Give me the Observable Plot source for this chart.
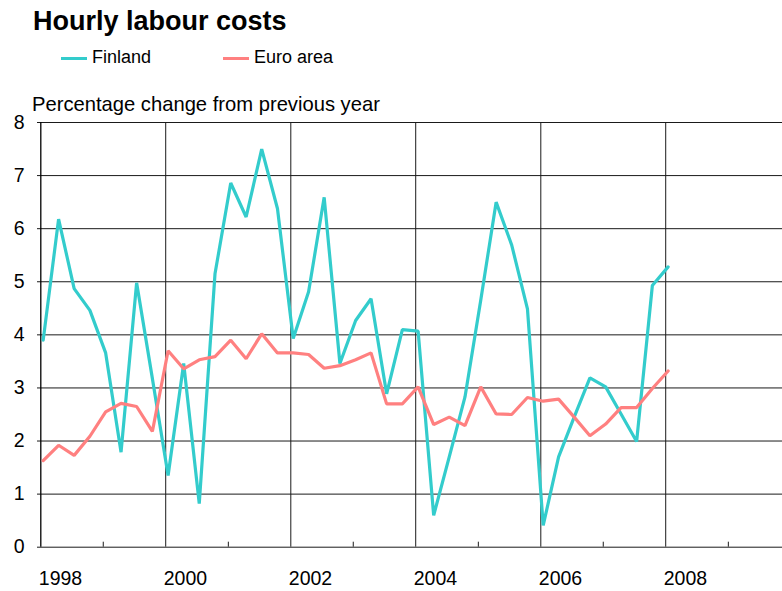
<!DOCTYPE html>
<html>
<head>
<meta charset="utf-8">
<script src="https://cdn.jsdelivr.net/npm/d3@7"></script>
<script src="https://cdn.jsdelivr.net/npm/@observablehq/plot@0.6"></script>
<style>
  html, body { margin: 0; padding: 0; background: #fff; }
  body { width: 782px; height: 591px; overflow: hidden; font-family: "Liberation Sans", Arial, sans-serif; color: #000; }
  #header { position: relative; height: 112px; }
  #title { position: absolute; left: 33px; top: 8px; font-size: 27px; font-weight: bold; line-height: 27px; white-space: nowrap; }
  .leg { position: absolute; top: 48px; font-size: 18px; line-height: 18px; white-space: nowrap; }
  .leg .sw { position: absolute; top: 9px; height: 3px; width: 26px; }
  #ylab { position: absolute; left: 32px; top: 94px; font-size: 20.2px; line-height: 20px; white-space: nowrap; }
  #chart svg { display: block; }
</style>
</head>
<body>
<div id="header">
  <div id="title">Hourly labour costs</div>
  <div class="leg" style="left:61px"><span class="sw" style="left:0;background:#33CCCC"></span><span style="margin-left:31px">Finland</span></div>
  <div class="leg" style="left:223px"><span class="sw" style="left:0;background:#FF8080"></span><span style="margin-left:31px">Euro area</span></div>
  <div id="ylab">Percentage change from previous year</div>
</div>
<div id="chart"></div>
<script>
// Quarterly data, 1998 Q1 to 2008 Q1
const startYear = 1998;
const finland = [3.90, 6.18, 4.87, 4.46, 3.66, 1.79, 4.98, 3.18, 1.35, 3.46, 0.82, 5.15,
                 6.86, 6.22, 7.50, 6.38, 3.93, 4.81, 6.59, 3.46, 4.27, 4.68, 2.89, 4.10,
                 4.07, 0.60, 1.70, 2.83, 4.65, 6.50, 5.69, 4.49, 0.41, 1.70, 2.45, 3.19,
                 3.02, 2.51, 1.99, 4.93, 5.28];
const euroArea = [1.63, 1.92, 1.73, 2.09, 2.55, 2.71, 2.65, 2.18, 3.70, 3.36, 3.53, 3.59,
                  3.90, 3.55, 4.02, 3.66, 3.66, 3.63, 3.37, 3.42, 3.53, 3.66, 2.70, 2.70,
                  3.02, 2.31, 2.45, 2.29, 3.02, 2.51, 2.50, 2.82, 2.75, 2.79, 2.45, 2.10,
                  2.32, 2.63, 2.63, 2.99, 3.32];
const seriesNames = ["Finland", "Euro area"];
const seriesColors = ["#33CCCC", "#FF8080"];
const yTicks = [0, 1, 2, 3, 4, 5, 6, 7, 8];
const labelYears = [1998, 2000, 2002, 2004, 2006, 2008];
const gridYears = [2000, 2002, 2004, 2006, 2008, 2010];
const minorYears = [1999, 2001, 2003, 2005, 2007, 2009];

// quarter date: middle of the first month of each quarter
const qDate = i => new Date(Date.UTC(startYear + Math.floor(i / 4), (i % 4) * 3, 15));
const yDate = y => new Date(Date.UTC(y, 0, 1));

const rows = [];
[finland, euroArea].forEach((vals, s) => vals.forEach((v, i) => rows.push({date: qDate(i), value: v, series: seriesNames[s]})));

const W = 782, H = 479;
const chart = Plot.plot({
  width: W,
  height: H,
  marginLeft: 40,
  marginRight: 0,
  marginTop: 10,
  marginBottom: 44.3,
  style: {background: "transparent", overflow: "visible", fontFamily: "'Liberation Sans', Arial, sans-serif", color: "#000"},
  x: {type: "utc", domain: [yDate(1998), yDate(2010)], range: [40.3, 790.3]},
  y: {domain: [0, 8]},
  color: {domain: seriesNames, range: seriesColors},
  marks: [
    Plot.gridY(yTicks, {stroke: "#1a1a1a", strokeOpacity: 1, strokeWidth: 1}),
    Plot.ruleX(gridYears.map(yDate), {y1: 0, y2: 8, stroke: "#1a1a1a", strokeWidth: 1}),
    Plot.ruleX([yDate(1998)], {y1: 0, y2: 8, stroke: "#000", strokeWidth: 1.3}),
    Plot.axisX(minorYears.map(yDate), {tickSize: -5, tickFormat: () => "", stroke: "#1a1a1a", label: null}),
    Plot.axisY(yTicks, {tickSize: 3, tickPadding: 13, fontSize: 19.5, tickFormat: d => String(d), label: null, stroke: "#1a1a1a"}),
    Plot.text(labelYears, {x: yDate, y: () => 0, text: d => String(d), textAnchor: "start", dx: -2, dy: 32, fontSize: 19.5, lineAnchor: "middle", fill: "#000"}),
    Plot.line(rows, {x: "date", y: "value", z: "series", stroke: "series", strokeWidth: 3.2, strokeLinejoin: "miter", curve: "linear"})
  ]
});
document.getElementById("chart").appendChild(chart);
</script>
</body>
</html>
